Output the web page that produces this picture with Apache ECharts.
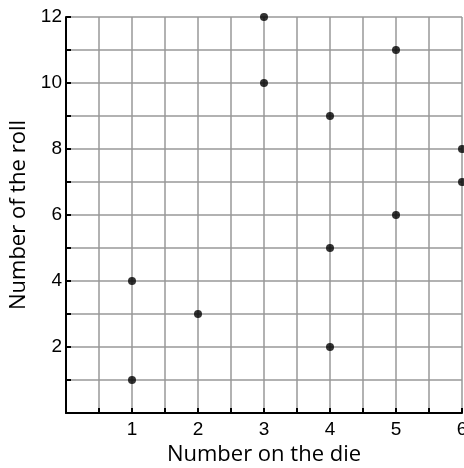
<!DOCTYPE html>
<html><head><meta charset="utf-8">
<script src="https://cdn.jsdelivr.net/npm/echarts@6/dist/echarts.min.js"></script>
<style>html,body{margin:0;padding:0;background:#fff}#c{width:464px;height:468px}</style>
</head><body><div id="c"></div>
<script>
const dieNumbers = [1, 1, 2, 3, 3, 4, 4, 4, 5, 5, 6, 6];
const rollNumbers = [1, 4, 3, 10, 12, 2, 5, 9, 6, 11, 7, 8];
const xTickLabels = [1, 2, 3, 4, 5, 6];
const yTickLabels = [2, 4, 6, 8, 10, 12];

const points = dieNumbers.map((d, i) => [d, rollNumbers[i]]);
const chart = echarts.init(document.getElementById('c'), null, {renderer: 'canvas'});
chart.setOption({
  animation: false,
  grid: {left: 66, right: 2, top: 17, bottom: 55, containLabel: false, outerBoundsMode: 'none'},
  xAxis: {
    type: 'value', min: 0, max: 6, interval: 0.5,
    name: 'Number on the die', nameLocation: 'middle', nameGap: 30,
    nameTextStyle: {fontFamily: 'Open Sans', fontSize: 22, color: '#000'},
    axisLine: {show: true, lineStyle: {color: '#000', width: 2}},
    axisTick: {show: true, inside: true, length: 5, lineStyle: {color: '#000', width: 2}},
    axisLabel: {fontFamily: 'Liberation Sans', fontSize: 19, color: '#000', margin: 7,
      formatter: v => xTickLabels.includes(v) ? String(v) : ''},
    splitLine: {show: true, lineStyle: {color: '#999', width: 1.5}}
  },
  yAxis: {
    type: 'value', min: 0, max: 12, interval: 1,
    name: 'Number of the roll', nameLocation: 'middle', nameGap: 34, nameRotate: 90,
    nameTextStyle: {fontFamily: 'Open Sans', fontSize: 22, color: '#000'},
    axisLine: {show: true, lineStyle: {color: '#000', width: 2}},
    axisTick: {show: true, inside: true, length: 5, lineStyle: {color: '#000', width: 2}},
    axisLabel: {fontFamily: 'Liberation Sans', fontSize: 19, color: '#000', margin: 4,
      formatter: v => yTickLabels.includes(v) ? String(v) : ''},
    splitLine: {show: true, lineStyle: {color: '#999', width: 1.5}}
  },
  series: [{
    type: 'scatter', data: points, symbolSize: 8, clip: false,
    itemStyle: {color: '#000'}
  }]
});
</script></body></html>
